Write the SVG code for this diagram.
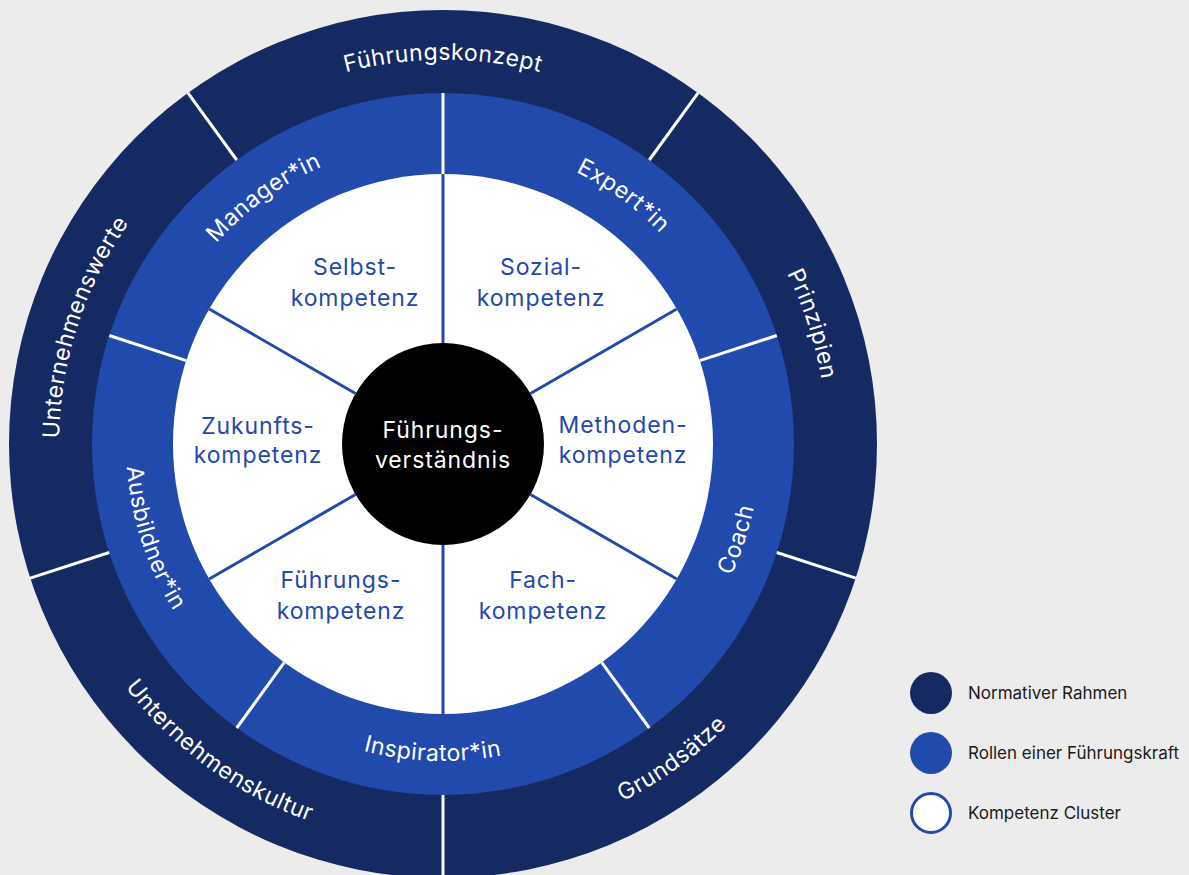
<svg xmlns="http://www.w3.org/2000/svg" width="1189" height="875" viewBox="0 0 1189 875">
<style>
.navy{fill:#152a63}
.blue{fill:#2249ac}
.wl{stroke:#ffffff;stroke-width:3;fill:none}
.bl{stroke:#2249ac;stroke-width:3;fill:none}
.rt{font-family:Inter,"DejaVu Sans",sans-serif;fill:#ffffff;font-size:23px;letter-spacing:0.5px}
.it{font-family:Inter,"DejaVu Sans",sans-serif;fill:#2249ac;font-size:23px;letter-spacing:0.9px;text-anchor:middle}
.ct{font-family:Inter,"DejaVu Sans",sans-serif;fill:#ffffff;font-size:23px;letter-spacing:0.9px;text-anchor:middle}
.lt{font-family:Inter,"DejaVu Sans",sans-serif;fill:#1a1a1a;font-size:17px}
</style>
<defs>
<path id="pFk" d="M64.8,377.3 A384,384 0 0 1 821.2,377.3"/>
<path id="pPr" d="M389.6,63.7 A384,384 0 0 1 623.3,783.0"/>
<path id="pUw" d="M262.7,783.0 A384,384 0 0 1 496.4,63.7"/>
<path id="pGr" d="M165.1,731.7 A400,400 0 0 0 802.5,268.6"/>
<path id="pUk" d="M83.5,268.6 A400,400 0 0 0 720.9,731.7"/>
<path id="pMa" d="M170.7,576.8 A303,303 0 0 1 653.5,226.1"/>
<path id="pEx" d="M232.5,226.1 A303,303 0 0 1 715.3,576.8"/>
<path id="pCo" d="M398.9,757.9 A317,317 0 0 0 591.8,164.1"/>
<path id="pIn" d="M130.8,499.0 A317,317 0 0 0 755.2,499.0"/>
<path id="pAu" d="M294.2,164.1 A317,317 0 0 0 487.1,757.9"/>
</defs>
<rect x="0" y="0" width="1189" height="875" fill="#ececec"/>

<g id="ring-normativ">
<circle class="navy" cx="443" cy="444" r="434"/>
</g>
<g id="ring-rollen">
<circle class="blue" cx="443" cy="444" r="351"/>
</g>
<g id="ring-kompetenz">
<circle fill="#ffffff" cx="443" cy="444" r="270"/>
</g>

<g id="connectors">
<line class="wl" x1="236.7" y1="160.0" x2="187.9" y2="92.9"/>
<line class="wl" x1="649.3" y1="160.0" x2="698.1" y2="92.9"/>
<line class="wl" x1="776.8" y1="552.5" x2="855.8" y2="578.1"/>
<line class="wl" x1="443" y1="795" x2="443" y2="878"/>
<line class="wl" x1="109.2" y1="552.5" x2="30.2" y2="578.1"/>
<line class="wl" x1="443" y1="174" x2="443" y2="93"/>
<line class="wl" x1="699.8" y1="360.6" x2="776.8" y2="335.5"/>
<line class="wl" x1="601.7" y1="662.4" x2="649.3" y2="728.0"/>
<line class="wl" x1="284.3" y1="662.4" x2="236.7" y2="728.0"/>
<line class="wl" x1="186.2" y1="360.6" x2="109.2" y2="335.5"/>
<line class="bl" x1="443" y1="343" x2="443" y2="174"/>
<line class="bl" x1="530.5" y1="393.5" x2="676.8" y2="309"/>
<line class="bl" x1="530.5" y1="494.5" x2="676.8" y2="579"/>
<line class="bl" x1="443" y1="545" x2="443" y2="714"/>
<line class="bl" x1="355.5" y1="494.5" x2="209.2" y2="579"/>
<line class="bl" x1="355.5" y1="393.5" x2="209.2" y2="309"/>
</g>

<g id="center">
<circle fill="#000000" cx="443" cy="444" r="101"/>
<text class="ct"><tspan x="443" y="438">Führungs-</tspan><tspan x="443" y="468">verständnis</tspan></text>
</g>

<g id="label-fuehrungskonzept"><text class="rt"><textPath href="#pFk" startOffset="50%" text-anchor="middle">Führungskonzept</textPath></text></g>
<g id="label-prinzipien"><text class="rt"><textPath href="#pPr" startOffset="50%" text-anchor="middle">Prinzipien</textPath></text></g>
<g id="label-grundsaetze"><text class="rt"><textPath href="#pGr" startOffset="50%" text-anchor="middle">Grundsätze</textPath></text></g>
<g id="label-unternehmenskultur"><text class="rt"><textPath href="#pUk" startOffset="50%" text-anchor="middle">Unternehmenskultur</textPath></text></g>
<g id="label-unternehmenswerte"><text class="rt"><textPath href="#pUw" startOffset="50%" text-anchor="middle">Unternehmenswerte</textPath></text></g>

<g id="label-manager"><text class="rt"><textPath href="#pMa" startOffset="50%" text-anchor="middle">Manager*in</textPath></text></g>
<g id="label-expert"><text class="rt"><textPath href="#pEx" startOffset="50%" text-anchor="middle">Expert*in</textPath></text></g>
<g id="label-coach"><text class="rt"><textPath href="#pCo" startOffset="50%" text-anchor="middle">Coach</textPath></text></g>
<g id="label-inspirator"><text class="rt"><textPath href="#pIn" startOffset="432" text-anchor="middle">Inspirator*in</textPath></text></g>
<g id="label-ausbildner"><text class="rt"><textPath href="#pAu" startOffset="50%" text-anchor="middle">Ausbildner*in</textPath></text></g>

<g id="node-selbst"><text class="it"><tspan x="355" y="275">Selbst-</tspan><tspan x="355" y="306">kompetenz</tspan></text></g>
<g id="node-sozial"><text class="it"><tspan x="541" y="275">Sozial-</tspan><tspan x="541" y="306">kompetenz</tspan></text></g>
<g id="node-zukunft"><text class="it"><tspan x="258" y="434">Zukunfts-</tspan><tspan x="258" y="463">kompetenz</tspan></text></g>
<g id="node-methoden"><text class="it"><tspan x="623" y="433">Methoden-</tspan><tspan x="623" y="463">kompetenz</tspan></text></g>
<g id="node-fuehrung"><text class="it"><tspan x="341" y="588">Führungs-</tspan><tspan x="341" y="619">kompetenz</tspan></text></g>
<g id="node-fach"><text class="it"><tspan x="543" y="588">Fach-</tspan><tspan x="543" y="619">kompetenz</tspan></text></g>

<g id="legend">
<circle class="navy" cx="931" cy="693" r="21"/>
<circle class="blue" cx="931" cy="753" r="21"/>
<circle fill="#ffffff" stroke="#2249ac" stroke-width="3" cx="931" cy="813" r="19.5"/>
<text class="lt" x="968" y="699">Normativer Rahmen</text>
<text class="lt" x="968" y="759">Rollen einer Führungskraft</text>
<text class="lt" x="968" y="819">Kompetenz Cluster</text>
</g>
</svg>
